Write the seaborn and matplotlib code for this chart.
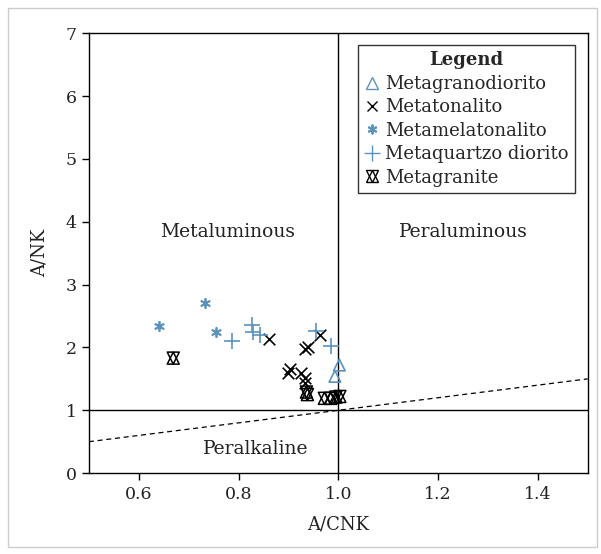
import matplotlib
matplotlib.use("Agg")
import matplotlib.pyplot as plt
import seaborn as sns
import pandas as pd
from matplotlib.lines import Line2D
from matplotlib.legend_handler import HandlerTuple
from matplotlib.patches import Rectangle

# ---- data ----
granodiorito_x = [1.002, 0.993]
granodiorito_y = [1.72, 1.54]

tonalito_x = [0.861, 0.963, 0.934, 0.939, 0.899, 0.904, 0.926, 0.933, 0.933]
tonalito_y = [2.13, 2.20, 1.97, 2.01, 1.59, 1.66, 1.60, 1.52, 1.43]

melatonalito_x = [0.640, 0.732, 0.754]
melatonalito_y = [2.34, 2.70, 2.25]

quartzo_x = [0.786, 0.827, 0.828, 0.843, 0.955, 0.986]
quartzo_y = [2.11, 2.35, 2.24, 2.20, 2.26, 2.02]

granite_x = [0.669, 0.936, 0.938, 0.972, 0.985, 0.995, 1.003]
granite_y = [1.83, 1.29, 1.25, 1.19, 1.19, 1.21, 1.22]

series_labels = ["Metagranodiorito", "Metatonalito", "Metamelatonalito",
                 "Metaquartzo diorito", "Metagranite"]
region_labels = ["Metaluminous", "Peraluminous", "Peralkaline"]
x_ticks = [0.6, 0.8, 1.0, 1.2, 1.4]
y_ticks = [0, 1, 2, 3, 4, 5, 6, 7]

BLUE = "#5b93bf"

sns.set_theme(style="white")
plt.rcParams["font.family"] = ["DejaVu Serif"]

fig = plt.figure(figsize=(6.01, 5.54), dpi=100)
ax = fig.add_axes([0.148, 0.146, 0.830, 0.794])

# reference lines
ax.axhline(1, color="black", lw=1.0, zorder=1)
ax.axvline(1, color="black", lw=1.0, zorder=1)
ax.plot([0.5, 1.5], [0.5, 1.5], ls=(0, (4, 3)), color="black", lw=0.9, zorder=1)

sns.scatterplot(x=granodiorito_x, y=granodiorito_y, marker="^", s=70,
                facecolors="none", edgecolor=BLUE, linewidth=1.2, ax=ax, zorder=3)
sns.scatterplot(x=tonalito_x, y=tonalito_y, marker="x", s=70,
                color="black", linewidth=1.2, ax=ax, zorder=3)
sns.scatterplot(x=melatonalito_x, y=melatonalito_y, marker=(6, 2, 0), s=45,
                color=BLUE, linewidth=1.3, ax=ax, zorder=3)
sns.scatterplot(x=quartzo_x, y=quartzo_y, marker="+", s=120,
                color=BLUE, linewidth=1.2, ax=ax, zorder=3)
sns.scatterplot(x=granite_x, y=granite_y, marker="^", s=75,
                facecolors="none", edgecolor="black", linewidth=1.1, ax=ax, zorder=3)
sns.scatterplot(x=granite_x, y=granite_y, marker="v", s=75,
                facecolors="none", edgecolor="black", linewidth=1.1, ax=ax, zorder=3)

ax.set_xlim(0.5, 1.5)
ax.set_ylim(0, 7)
ax.set_xticks(x_ticks)
ax.set_xticklabels([f"{v:.1f}" for v in x_ticks])
ax.set_yticks(y_ticks)
ax.tick_params(axis="both", direction="out", length=5, width=1, color="black",
               labelsize=12.5, labelcolor="#222222", bottom=True, left=True, pad=4)
for sp in ax.spines.values():
    sp.set_color("black")
    sp.set_linewidth(1.0)
ax.set_xlabel("A/CNK", fontsize=13, color="#222222", labelpad=9)
ax.set_ylabel("A/NK", fontsize=13, color="#222222", labelpad=12)

ax.text(0.778, 3.83, region_labels[0], ha="center", va="center", fontsize=13.5, color="#222222")
ax.text(1.25, 3.83, region_labels[1], ha="center", va="center", fontsize=13.5, color="#222222")
ax.text(0.835, 0.38, region_labels[2], ha="center", va="center", fontsize=13.5, color="#222222")

# legend
h1 = Line2D([], [], marker="^", ls="", markerfacecolor="none", markeredgecolor=BLUE, markersize=9)
h2 = Line2D([], [], marker="x", ls="", color="black", markersize=7.5)
h3 = Line2D([], [], marker=(6, 2, 0), ls="", color=BLUE, markersize=7, markeredgewidth=1.4)
h4 = Line2D([], [], marker="+", ls="", color=BLUE, markersize=12)
h5a = Line2D([], [], marker="^", ls="", markerfacecolor="none", markeredgecolor="black", markersize=8)
h5b = Line2D([], [], marker="v", ls="", markerfacecolor="none", markeredgecolor="black", markersize=8)
leg = ax.legend([h1, h2, h3, h4, (h5a, h5b)], series_labels,
                handler_map={tuple: HandlerTuple(ndivide=1)},
                title="Legend", loc="upper right", bbox_to_anchor=(0.974, 0.973),
                fontsize=13, title_fontsize=13, frameon=True, fancybox=False,
                edgecolor="black", handlelength=0.9, handletextpad=0.25,
                labelspacing=0.3, borderpad=0.35, borderaxespad=0)
leg.get_title().set_fontweight("bold")
leg.get_frame().set_linewidth(1.0)

fig.patches.append(Rectangle((0.013, 0.013), 0.981, 0.973, transform=fig.transFigure,
                             fill=False, edgecolor="#cccccc", lw=1.0))

fig.savefig("out.png", dpi=100)
